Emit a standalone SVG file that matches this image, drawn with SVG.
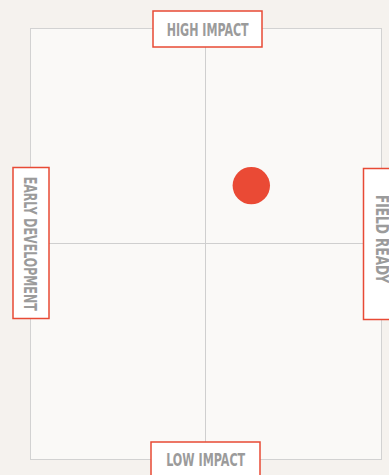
<svg xmlns="http://www.w3.org/2000/svg" width="389" height="475" viewBox="0 0 389 475">
<style>
.lbl{fill:#ffffff;stroke:#e84a35;stroke-width:1.5}
.t{font-family:"DejaVu Sans Condensed","Roboto","Liberation Sans",sans-serif;font-weight:bold;font-size:17px;fill:#9b9b9b;text-anchor:middle}
.ax{stroke:#cfcfcf;stroke-width:1;fill:none}
</style>
<rect x="0" y="0" width="389" height="475" fill="#f5f2ee"/>
<g id="frame">
<rect x="30.5" y="28.5" width="351" height="431" fill="#faf9f7" stroke="#d2d2d2" stroke-width="1"/>
</g>
<g id="axes">
<line class="ax" x1="205.5" y1="28.5" x2="205.5" y2="459.5"/>
<line class="ax" x1="30.5" y1="243.5" x2="381.5" y2="243.5"/>
</g>
<g id="high">
<rect class="lbl" x="153" y="11" width="109" height="36"/>
<text class="t" x="207.7" y="35.5" textLength="82" lengthAdjust="spacingAndGlyphs">HIGH IMPACT</text>
</g>
<g id="low">
<rect class="lbl" x="151" y="442" width="109" height="40"/>
<text class="t" x="205.7" y="465.7" textLength="79" lengthAdjust="spacingAndGlyphs">LOW IMPACT</text>
</g>
<g id="early">
<rect class="lbl" x="13" y="167.5" width="36" height="151"/>
<text class="t" transform="translate(23.5,243.7) rotate(90)" x="0" y="0" textLength="134" lengthAdjust="spacingAndGlyphs">EARLY DEVELOPMENT</text>
</g>
<g id="field">
<rect class="lbl" x="363.5" y="168.5" width="40" height="151"/>
<text class="t" transform="translate(376,239) rotate(90)" x="0" y="0" textLength="88" lengthAdjust="spacingAndGlyphs">FIELD READY</text>
</g>
<g id="dot">
<circle cx="251.3" cy="185.6" r="18.7" fill="#ea4a35"/>
</g>
</svg>
